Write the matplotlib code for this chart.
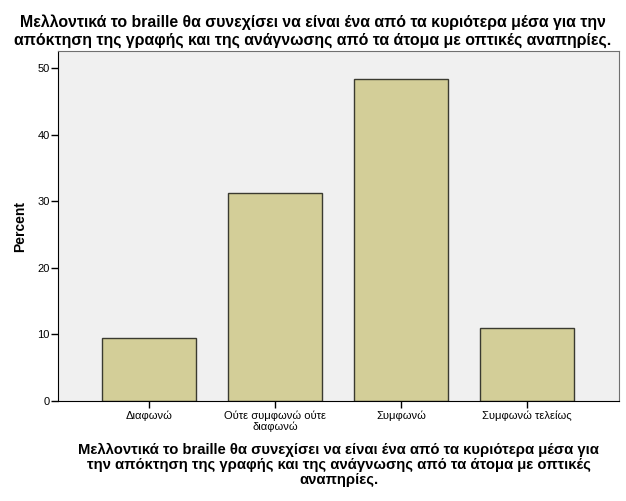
from matplotlib import pyplot as plt

plt.rcParams['font.family'] = ['Liberation Sans', 'DejaVu Sans']

# data
categories = ['Διαφωνώ', 'Ούτε συμφωνώ ούτε\nδιαφωνώ', 'Συμφωνώ', 'Συμφωνώ τελείως']
percent = [9.4, 31.3, 48.4, 10.9]
title = ('Μελλοντικά το braille θα συνεχίσει να είναι ένα από τα κυριότερα μέσα για την\n'
         'απόκτηση της γραφής και της ανάγνωσης από τα άτομα με οπτικές αναπηρίες.')
xtitle = ('Μελλοντικά το braille θα συνεχίσει να είναι ένα από τα κυριότερα μέσα για\n'
          'την απόκτηση της γραφής και της ανάγνωσης από τα άτομα με οπτικές\n'
          'αναπηρίες.')

fig = plt.figure(figsize=(6.26, 5.01), dpi=100)
ax = fig.add_axes([58/626, 1 - 401/501, 561/626, 350/501])
ax.set_facecolor('#f0f0f0')

x = list(range(len(categories)))
ax.bar(x, percent, width=0.746, color='#d3ce98', edgecolor='#3a3a30', linewidth=1)

ax.set_xlim(-0.722, 3.73)
ax.set_ylim(0, 52.55)
ax.set_yticks([0, 10, 20, 30, 40, 50])
ax.set_xticks(x)
ax.set_xticklabels(categories, fontsize=8, linespacing=1.0)
ax.tick_params(axis='y', labelsize=8, length=5, width=1, pad=1)
ax.tick_params(axis='x', length=5, width=1, pad=2)

for s in ['top', 'right']:
    ax.spines[s].set_color('#707070')
for s in ['left', 'bottom']:
    ax.spines[s].set_color('black')

ax.set_ylabel('Percent', fontsize=10, fontweight='bold', labelpad=7)
ax.set_xlabel(xtitle, fontsize=10.7, fontweight='bold', labelpad=8, linespacing=1.08)

fig.text(0.5, 1 - 14/501, title, ha='center', va='top', fontsize=11.4,
         fontweight='bold', linespacing=1.25)

fig.savefig('out.png', dpi=100)
